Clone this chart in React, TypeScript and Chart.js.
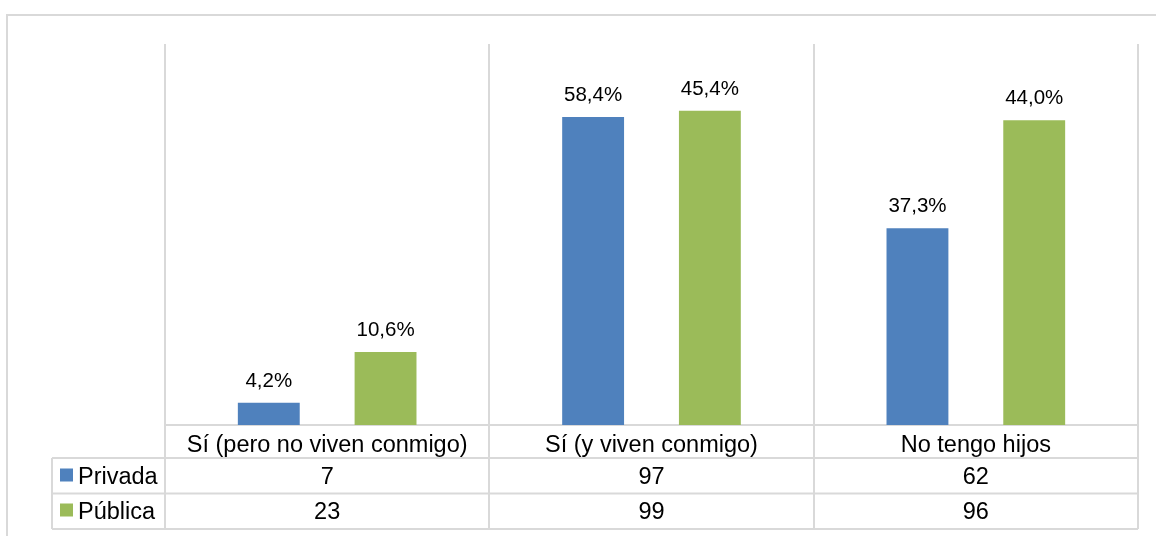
import React, { useEffect, useRef } from "react";
import { Chart, registerables } from "chart.js";

Chart.register(...registerables);

const categories = ["Sí (pero no viven conmigo)", "Sí (y viven conmigo)", "No tengo hijos"];
const seriesNames = ["Privada", "Pública"];
const privadaCounts = [7, 97, 62];
const publicaCounts = [23, 99, 96];
const privadaPct = [4.2, 58.4, 37.3];
const publicaPct = [10.6, 45.4, 44.0];
const seriesColors = ["#4F81BD", "#9BBB59"];

const FONT = '"Liberation Sans", Arial, sans-serif';
const LINE = "#d9d9d9";

const fmtPct = (v: number) => v.toFixed(1).replace(".", ",") + "%";

const tablePlugin = {
  id: "tablePlugin",
  beforeDraw(chart: any) {
    const { ctx, chartArea } = chart;
    const x = chart.scales.x;
    ctx.save();
    ctx.fillStyle = "#ffffff";
    ctx.fillRect(0, 0, chart.width, chart.height);
    // outer frame
    ctx.strokeStyle = LINE;
    ctx.lineWidth = 2;
    ctx.strokeRect(7, 15, 1300, 700);

    const n = categories.length;
    const catH = 33;
    const rowH = 35.5;
    const legendLeft = 52;
    const yTop = chartArea.top;
    const yBase = chartArea.bottom;
    const yCat = yBase + catH;
    const yRow1 = yCat + rowH;
    const yRow2 = yRow1 + rowH;
    const step = (x.right - x.left) / n;

    ctx.lineWidth = 2;
    ctx.strokeStyle = LINE;
    ctx.beginPath();
    for (let i = 0; i <= n; i++) {
      const px = Math.round(x.left + i * step);
      ctx.moveTo(px, yTop);
      ctx.lineTo(px, yRow2);
    }
    ctx.moveTo(x.left, yBase);
    ctx.lineTo(x.right, yBase);
    ctx.moveTo(legendLeft, yCat);
    ctx.lineTo(x.right, yCat);
    ctx.moveTo(legendLeft, yRow1);
    ctx.lineTo(x.right, yRow1);
    ctx.moveTo(legendLeft, yRow2);
    ctx.lineTo(x.right, yRow2);
    ctx.moveTo(legendLeft, yCat);
    ctx.lineTo(legendLeft, yRow2);
    ctx.stroke();

    ctx.fillStyle = "#000000";
    ctx.font = `23.5px ${FONT}`;
    ctx.textAlign = "center";
    ctx.textBaseline = "alphabetic";
    for (let i = 0; i < n; i++) {
      const cx = x.getPixelForValue(i);
      ctx.fillText(categories[i], cx, yBase + 27);
      ctx.fillText(String(privadaCounts[i]), cx, yCat + 25.5);
      ctx.fillText(String(publicaCounts[i]), cx, yRow1 + 25);
    }
    // legend keys
    const rows = [yCat, yRow1];
    const offs = [25.5, 25];
    ctx.textAlign = "left";
    for (let s = 0; s < 2; s++) {
      const base = rows[s] + offs[s];
      ctx.fillStyle = seriesColors[s];
      ctx.fillRect(60, base - 15, 13, 13);
      ctx.fillStyle = "#000000";
      ctx.fillText(seriesNames[s], 78, base);
    }
    ctx.restore();
  },
  afterDatasetsDraw(chart: any) {
    const { ctx } = chart;
    const pcts = [privadaPct, publicaPct];
    ctx.save();
    ctx.fillStyle = "#000000";
    ctx.font = `20.5px ${FONT}`;
    ctx.textAlign = "center";
    ctx.textBaseline = "alphabetic";
    chart.data.datasets.forEach((ds: any, di: number) => {
      const meta = chart.getDatasetMeta(di);
      meta.data.forEach((bar: any, i: number) => {
        ctx.fillText(fmtPct(pcts[di][i]), bar.x, bar.y - 16);
      });
    });
    ctx.restore();
  },
};

export default function App() {
  const ref = useRef<HTMLCanvasElement | null>(null);
  useEffect(() => {
    if (!ref.current) return;
    const chart = new Chart(ref.current, {
      type: "bar",
      data: {
        labels: categories,
        datasets: [
          { label: seriesNames[0], data: privadaCounts, backgroundColor: seriesColors[0] },
          { label: seriesNames[1], data: publicaCounts, backgroundColor: seriesColors[1] },
        ],
      },
      options: {
        animation: false,
        responsive: false,
        devicePixelRatio: 1,
        layout: { padding: { left: 165, right: 18, top: 44, bottom: 111 } },
        datasets: { bar: { categoryPercentage: 0.72, barPercentage: 0.53 } },
        plugins: { legend: { display: false }, tooltip: { enabled: false } },
        scales: {
          x: { display: false, offset: true },
          y: { display: false, min: 0, max: 120 },
        },
      },
      plugins: [tablePlugin],
    });
    return () => chart.destroy();
  }, []);
  return (
    <div style={{ position: "absolute", left: 0, top: 0, width: 1156, height: 536 }}>
      <canvas ref={ref} width={1156} height={536} />
    </div>
  );
}
